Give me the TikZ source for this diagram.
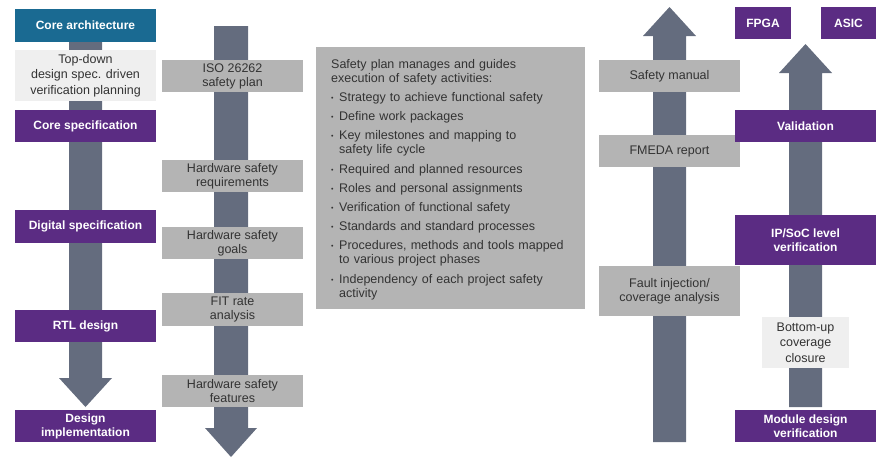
\documentclass[tikz,border=0pt]{standalone}
\usepackage{fontspec}
\setmainfont{Liberation Sans}
\usepackage{xcolor}
\usepackage{tikz}
\definecolor{safepurple}{HTML}{5B2C83}
\definecolor{safeteal}{HTML}{1A6A92}
\definecolor{safearrow}{HTML}{646C7E}
\definecolor{safegray}{HTML}{B4B4B4}
\definecolor{safelight}{HTML}{EFEFEF}
\definecolor{safetext}{HTML}{333333}
\newcommand{\safeitem}[1]{\par\noindent\makebox[8pt][l]{\raisebox{1pt}{\scriptsize\textbullet}}\begin{tabular}[t]{@{}l@{}}#1\end{tabular}}

\begin{document}
\begin{tikzpicture}[x=1pt, y=-1pt,
    box/.style={rectangle, inner sep=0pt, align=center, minimum width=141pt, minimum height=32pt},
    stagebox/.style={box, fill=safepurple, text=white, font=\fontsize{12}{14}\selectfont\bfseries},
    notebox/.style={box, fill=safegray, text=safetext, font=\fontsize{12.5}{14}\selectfont},
    planbox/.style={box, fill=safelight, text=safetext, font=\fontsize{12.5}{15.5}\selectfont}]
      \useasboundingbox (0,0) rectangle (893,459);
      % block arrows behind the boxes
      \fill[safearrow] (69,42) -- (102,42) -- (102,378) -- (112,378) -- (85.5,407) -- (59,378) -- (69,378) -- cycle;
      \fill[safearrow] (214,26) -- (248,26) -- (248,428) -- (257,428) -- (231,457) -- (205,428) -- (214,428) -- cycle;
      \fill[safearrow] (653,442) -- (686,442) -- (686,36) -- (696,36) -- (669.5,7) -- (643,36) -- (653,36) -- cycle;
      \fill[safearrow] (789,407) -- (822,407) -- (822,73) -- (832,73) -- (805.5,44) -- (779,73) -- (789,73) -- cycle;
      % design flow
      \node[stagebox, fill=safeteal, minimum height=33pt] (corearch) at (85.5,25.5) {Core architecture};
      \node[planbox, minimum height=51pt] (topdown) at (85.5,75.5) {Top-down\\design spec. driven\\verification planning};
      \node[stagebox] (corespec) at (85.5,126) {Core specification};
      \node[stagebox, minimum height=33pt] (digspec) at (85.5,226.5) {Digital specification};
      \node[stagebox] (rtl) at (85.5,326) {RTL design};
      \node[stagebox] (designimpl) at (85.5,426) {Design\\implementation};
      % safety plan column
      \node[notebox] (isoplan) at (232.5,76) {ISO 26262\\safety plan};
      \node[notebox] (hwreq) at (232.5,176) {Hardware safety\\requirements};
      \node[notebox] (hwgoals) at (232.5,243) {Hardware safety\\goals};
      \node[notebox, minimum height=33pt] (fitrate) at (232.5,309.5) {FIT rate\\analysis};
      \node[notebox] (hwfeat) at (232.5,391) {Hardware safety\\features};
      % safety plan description
      \fill[safegray] (316,47) rectangle (585,309);
      \node[anchor=north west, inner sep=0pt, text width=250pt, align=left, text=safetext,
            font=\fontsize{12.5}{14}\selectfont] (plantext) at (331,59.5) {%
        \setlength{\parskip}{5pt}%
        Safety plan manages and guides\\execution of safety activities:
        \safeitem{Strategy to achieve functional safety}
        \safeitem{Define work packages}
        \safeitem{Key milestones and mapping to\\safety life cycle}
        \safeitem{Required and planned resources}
        \safeitem{Roles and personal assignments}
        \safeitem{Verification of functional safety}
        \safeitem{Standards and standard processes}
        \safeitem{Procedures, methods and tools mapped\\to various project phases}
        \safeitem{Independency of each project safety\\activity}};
      % safety reports column
      \node[notebox] (manual) at (669.5,76) {Safety manual};
      \node[notebox] (fmeda) at (669.5,151) {FMEDA report};
      \node[notebox, minimum height=50pt] (faultinj) at (669.5,291) {Fault injection/\\coverage analysis};
      % verification flow
      \node[stagebox, minimum width=56pt] (fpga) at (763,23) {FPGA};
      \node[stagebox, minimum width=55pt] (asic) at (848.5,23) {ASIC};
      \node[stagebox] (validation) at (805.5,126) {Validation};
      \node[stagebox, minimum height=50pt] (ipsoc) at (805.5,240) {IP/SoC level\\verification};
      \node[planbox, minimum width=87pt, minimum height=51pt] (bottomup) at (805.5,342.5) {Bottom-up\\coverage\\closure};
      \node[stagebox] (moddesign) at (805.5,426) {Module design\\verification};
    \end{tikzpicture}
\end{document}
